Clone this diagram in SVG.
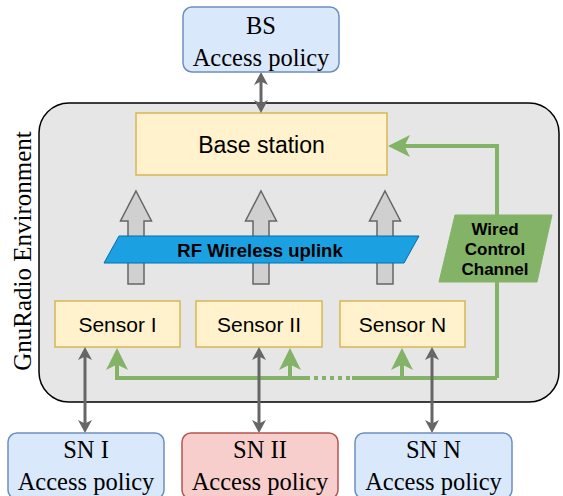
<svg xmlns="http://www.w3.org/2000/svg" width="563" height="496" viewBox="0 0 563 496">
<defs>
<style>
.serif{font-family:"Liberation Serif","Times New Roman",serif;font-size:24.5px;fill:#000;text-anchor:middle}
.sans{font-family:"Liberation Sans",Arial,sans-serif;fill:#000;text-anchor:middle}
.blue{fill:#dae8fc;stroke:#6c8ebf;stroke-width:1.5}
.red{fill:#f8cecc;stroke:#b85450;stroke-width:1.5}
.yel{fill:#fff2cc;stroke:#d6b656;stroke-width:1.5}
.blk{fill:#d0d0d0;stroke:#666666;stroke-width:1.5}
.gray{fill:none;stroke:#666666;stroke-width:3}
.green{fill:none;stroke:#82b366;stroke-width:4}
</style>
<marker id="ga" markerUnits="userSpaceOnUse" markerWidth="14" markerHeight="14" refX="9" refY="7" orient="auto-start-reverse" viewBox="0 0 14 14">
<path d="M0,0 L13,7 L0,14 L3.5,7 Z" fill="#666666"/>
</marker>
<marker id="gr" markerUnits="userSpaceOnUse" markerWidth="22" markerHeight="22" refX="16" refY="11" orient="auto" viewBox="0 0 22 22">
<path d="M0,0 L22,11 L0,22 L5.5,11 Z" fill="#82b366"/>
</marker>
</defs>

<g id="env">
<rect x="39" y="103" width="520" height="299" rx="30" ry="30" fill="#e6e6e6" stroke="#000" stroke-width="1.5"/>
<text class="serif" transform="translate(31,251) rotate(-90)" style="font-size:25px">GnuRadio Environment</text>
</g>

<g id="base-station">
<rect class="yel" x="136" y="113" width="251" height="62"/>
<text class="sans" x="261.5" y="153" font-size="23">Base station</text>
</g>

<g id="uplink-arrows">
<polygon class="blk" points="136,191 151.5,221 144,221 144,284 128,284 128,221 120.5,221"/>
<polygon class="blk" points="261,191 276.5,221 269,221 269,284 253,284 253,221 245.5,221"/>
<polygon class="blk" points="385,191 400.5,221 393,221 393,284 377,284 377,221 369.5,221"/>
</g>

<g id="rf-uplink">
<polygon points="119,236 419,236 404,263 104,263" fill="#1ba1e2" stroke="#006eaf" stroke-width="1"/>
<text class="sans" x="260" y="257" font-size="18.5" font-weight="bold">RF Wireless uplink</text>
</g>

<g id="sensor-1">
<rect class="yel" x="55" y="301" width="125" height="46"/>
<text class="sans" x="117.5" y="332" font-size="21">Sensor I</text>
</g>
<g id="sensor-2">
<rect class="yel" x="196" y="301" width="126" height="46"/>
<text class="sans" x="259" y="332" font-size="21">Sensor II</text>
</g>
<g id="sensor-n">
<rect class="yel" x="340" y="301" width="125" height="46"/>
<text class="sans" x="402.5" y="332" font-size="21">Sensor N</text>
</g>

<g id="connectors">
<path class="green" d="M497,378 V146 H394" marker-end="url(#gr)"/>
<path class="green" d="M497,378 H352"/>
<path class="green" d="M350,378 H312" stroke-dasharray="4 4"/>
<path class="green" d="M310,378 H117 V354" marker-end="url(#gr)"/>
<path class="green" d="M290,378 V354" marker-end="url(#gr)"/>
<path class="green" d="M402,378 V354" marker-end="url(#gr)"/>
<path class="gray" d="M261,76 V109" marker-start="url(#ga)" marker-end="url(#ga)"/>
<path class="gray" d="M85,351 V429" marker-start="url(#ga)" marker-end="url(#ga)"/>
<path class="gray" d="M259,351 V429" marker-start="url(#ga)" marker-end="url(#ga)"/>
<path class="gray" d="M432,351 V429" marker-start="url(#ga)" marker-end="url(#ga)"/>
</g>

<g id="wired-channel">
<polygon points="455,215 552,215 537,282 439,282" fill="#82b366" stroke="#82b366" stroke-width="1"/>
<text class="sans" x="495" y="235" font-size="17" font-weight="bold">Wired</text>
<text class="sans" x="495" y="255" font-size="17" font-weight="bold">Control</text>
<text class="sans" x="495" y="275" font-size="17" font-weight="bold">Channel</text>
</g>

<g id="bs-policy">
<rect class="blue" x="183" y="7" width="156" height="65" rx="9" ry="9"/>
<text class="serif" x="261" y="34">BS</text>
<text class="serif" x="261" y="66">Access policy</text>
</g>
<g id="sn1-policy">
<rect class="blue" x="8" y="433" width="156" height="66" rx="9" ry="9"/>
<text class="serif" x="86" y="458">SN I</text>
<text class="serif" x="86" y="490">Access policy</text>
</g>
<g id="sn2-policy">
<rect class="red" x="182" y="433" width="156" height="66" rx="9" ry="9"/>
<text class="serif" x="260" y="458">SN II</text>
<text class="serif" x="260" y="490">Access policy</text>
</g>
<g id="snn-policy">
<rect class="blue" x="355" y="433" width="157" height="66" rx="9" ry="9"/>
<text class="serif" x="433.5" y="458">SN N</text>
<text class="serif" x="433.5" y="490">Access policy</text>
</g>
</svg>
